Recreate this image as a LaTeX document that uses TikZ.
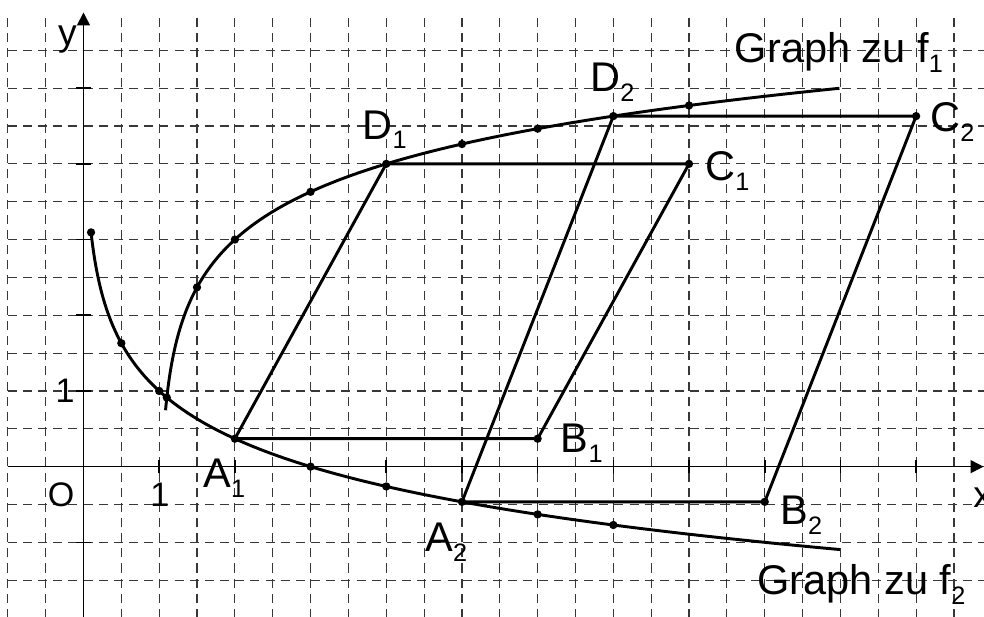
\documentclass[tikz,border=0pt]{standalone}
\usepackage{fontspec}
\setmainfont{Liberation Sans}
\usetikzlibrary{arrows.meta}
\newcommand\lbl[2]{#1\raisebox{-3.6pt}{\fontsize{9.5}{10}\selectfont #2}}
\begin{document}
\begin{tikzpicture}[
  gridline/.style={black!78, line width=0.45pt, dash pattern=on 3.4pt off 2.3pt},
  axisline/.style={line width=0.6pt, -{Triangle[length=0.17cm,width=0.17cm]}},
  tick/.style={line width=0.6pt},
  curve/.style={line width=1.1pt, line join=round},
  biglabel/.style={font=\fontsize{15.6}{18}\selectfont, inner sep=0pt, anchor=base west},
  numlabel/.style={font=\fontsize{12.8}{15}\selectfont, inner sep=0pt, anchor=base},
  varlabel/.style={font=\fontsize{14}{16}\selectfont, inner sep=0pt},
]
\useasboundingbox (-1.103,-1.985) rectangle (11.897,6.165);
\clip (-1.103,-1.985) rectangle (11.897,6.165);
% grid
\foreach \i in {-2,...,23} \draw[gridline] (\i/2,-2) -- (\i/2,6);
\foreach \j in {-3,...,11} \draw[gridline] (-1,\j/2) -- (11.95,\j/2);
% axes
\coordinate (xs) at (-1,0);
\coordinate (xe) at (11.89,0);
\coordinate (ys) at (0,-2);
\coordinate (ye) at (0,6);
\draw[axisline] (xs) -- (xe);
\draw[axisline] (ys) -- (ye);
\foreach \i in {1,...,11} \draw[tick] (\i,-0.09) -- (\i,0.09);
\foreach \j in {-1,1,2,3,4,5} \draw[tick] (-0.1,\j) -- (0.1,\j);
% graphs
\draw[curve] plot[domain=-2.302585:2.302585, samples=160] ({exp(\x)}, {1-\x/1.0986123});
\draw[curve] plot[domain=-2.477:2.1972246, samples=160] ({1+exp(\x)}, {3+\x/1.0986123});
% points
\coordinate (A1) at (2,0.36907);
\coordinate (B1) at (6,0.36907);
\coordinate (C1) at (8,4);
\coordinate (D1) at (4,4);
\coordinate (A2) at (5,-0.46497);
\coordinate (B2) at (9,-0.46497);
\coordinate (C2) at (11,4.63093);
\coordinate (D2) at (7,4.63093);
\draw[curve] (A1) -- (B1) -- (C1) -- (D1) -- cycle;
\draw[curve] (A2) -- (B2) -- (C2) -- (D2) -- cycle;
\foreach \p in {A1,B1,C1,D1,A2,B2,C2,D2} \fill (\p) circle (0.055);
\foreach \x in {0.1,0.5,1,3,4,6,7} \fill (\x,{1-ln(\x)/ln(3)}) circle (0.055);
\foreach \x in {1.5,2,3,5,6,8} \fill (\x,{3+ln(\x-1)/ln(3)}) circle (0.055);
\fill (1.10092,0.91248) circle (0.055);
% labels
\node[biglabel] (lA1) at (1.579,-0.281) {\lbl{A}{1}};
\node[biglabel] (lA2) at (4.511,-1.123) {\lbl{A}{2}};
\node[biglabel] (lB1) at (6.30,0.185) {\lbl{B}{1}};
\node[biglabel] (lB2) at (9.20,-0.77) {\lbl{B}{2}};
\node[biglabel] (lC1) at (8.21,3.774) {\lbl{C}{1}};
\node[biglabel] (lC2) at (11.18,4.426) {\lbl{C}{2}};
\node[biglabel] (lD1) at (3.68,4.325) {\lbl{D}{1}};
\node[biglabel] (lD2) at (6.69,4.95) {\lbl{D}{2}};
\node[biglabel] (g1) at (8.60,5.335) {Graph zu \lbl{f}{1}};
\node[biglabel] (g2) at (8.90,-1.695) {Graph zu \lbl{f}{2}};
\node[numlabel] (lO) at (-0.297,-0.532) {O};
\node[numlabel] (l1x) at (1.01,-0.532) {1};
\node[numlabel] (l1y) at (-0.244,0.841) {1};
\node[varlabel, anchor=base] (ly) at (-0.211,5.57) {y};
\node[varlabel, anchor=base west] (lx) at (11.75,-0.545) {x};
\end{tikzpicture}
\end{document}
